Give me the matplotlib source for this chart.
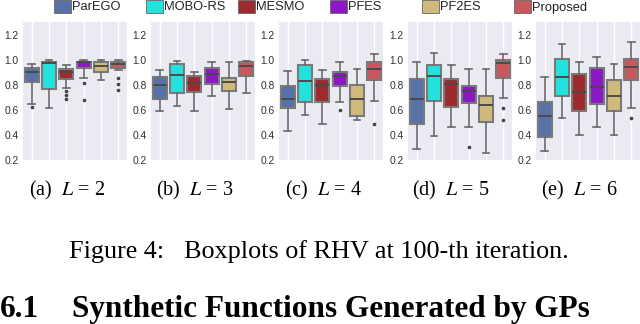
import matplotlib
matplotlib.use("Agg")
import matplotlib.pyplot as plt
from matplotlib.patches import Rectangle

methods = ["ParEGO", "MOBO-RS", "MESMO", "PFES", "PF2ES", "Proposed"]
colors = ["#5672a9", "#22e2de", "#9c2b2e", "#8c17c6", "#cfba7c", "#c8585d"]
panel_L = [2, 3, 4, 5, 6]
panel_tags = ["a", "b", "c", "d", "e"]

# RHV box statistics, one row per L, one column per method
whislo = [[0.648, 0.613, 0.773, 0.856, 0.840, 0.915],
          [0.589, 0.632, 0.587, 0.707, 0.605, 0.733],
          [0.435, 0.555, 0.483, 0.659, 0.515, 0.667],
          [0.291, 0.395, 0.461, 0.461, 0.253, 0.696],
          [0.275, 0.533, 0.403, 0.461, 0.403, 0.616]]
q1 = [[0.819, 0.768, 0.848, 0.933, 0.904, 0.933],
      [0.688, 0.733, 0.741, 0.808, 0.749, 0.867],
      [0.616, 0.664, 0.664, 0.789, 0.547, 0.835],
      [0.488, 0.669, 0.621, 0.653, 0.501, 0.856],
      [0.387, 0.707, 0.587, 0.648, 0.589, 0.835]]
med = [[0.901, 0.973, 0.901, 0.981, 0.947, 0.968],
       [0.800, 0.875, 0.813, 0.888, 0.819, 0.947],
       [0.685, 0.829, 0.795, 0.867, 0.685, 0.928],
       [0.685, 0.872, 0.808, 0.749, 0.637, 0.973],
       [0.549, 0.861, 0.741, 0.781, 0.707, 0.941]]
q3 = [[0.936, 0.979, 0.923, 0.984, 0.979, 0.981],
      [0.861, 0.965, 0.867, 0.933, 0.856, 0.979],
      [0.789, 0.960, 0.843, 0.901, 0.797, 0.984],
      [0.845, 0.960, 0.848, 0.789, 0.707, 1.000],
      [0.659, 1.008, 0.883, 0.933, 0.835, 1.008]]
whishi = [[0.968, 0.995, 0.960, 0.995, 0.995, 0.995],
          [0.915, 0.989, 0.901, 0.984, 0.981, 0.989],
          [0.909, 1.000, 0.920, 0.984, 0.928, 1.048],
          [0.979, 1.053, 0.957, 0.928, 0.925, 1.043],
          [0.861, 1.123, 0.979, 1.019, 0.965, 1.139]]
fliers = [[[0.621], [], [0.747, 0.720, 0.685], [0.813, 0.680], [], [0.856, 0.803, 0.757]],
          [[], [], [], [], [], []],
          [[], [], [], [0.600], [], [0.488]],
          [[], [], [], [0.301], [], [0.616, 0.520]],
          [[], [], [], [], [], [0.536]]]

yticks = [0.2, 0.4, 0.6, 0.8, 1.0, 1.2]

plt.rcParams["mathtext.fontset"] = "stix"
W, H = 640, 324
fig = plt.figure(figsize=(W / 100, H / 100), dpi=100)

def fx(px):
    return px / W

def fy(py):
    return 1 - py / H

ax_left = [23, 151, 279, 408, 536]
for p in range(len(panel_L)):
    ax = fig.add_axes([fx(ax_left[p]), fy(160), fx(104), fy(22) - fy(160)])
    ax.set_facecolor("#eaeaf2")
    stats = []
    for m in range(len(methods)):
        stats.append(dict(whislo=whislo[p][m], q1=q1[p][m], med=med[p][m],
                          q3=q3[p][m], whishi=whishi[p][m], fliers=fliers[p][m]))
    bp = ax.bxp(stats, positions=range(len(methods)), widths=0.8,
                patch_artist=True, showfliers=True,
                boxprops=dict(edgecolor="#7a7a7a", linewidth=1.5),
                whiskerprops=dict(color="#6a6a6a", linewidth=1.2),
                capprops=dict(color="#6a6a6a", linewidth=1.2),
                medianprops=dict(color="#4a4a4a", linewidth=1.4),
                flierprops=dict(marker="o", markersize=1.6, markerfacecolor="#444444",
                                markeredgecolor="#444444"))
    for box, c in zip(bp["boxes"], colors):
        box.set_facecolor(c)
    ax.set_xlim(-0.5, 5.5)
    ax.set_ylim(0.2, 1.3)
    ax.set_yticks(yticks)
    ax.set_yticklabels([f"{t:.1f}" for t in yticks], fontsize=7.4,
                       color="#333333", family="Liberation Sans")
    ax.set_xticks(range(len(methods)))
    ax.set_xticklabels([])
    ax.tick_params(length=0, pad=3)
    ax.grid(axis="x", color="white", linewidth=1.0)
    ax.set_axisbelow(True)
    for s in ax.spines.values():
        s.set_visible(False)
    fig.text(fx(67 + 128 * p), fy(195), f"({panel_tags[p]})  $L$ = {panel_L[p]}",
             ha="center", va="baseline", fontsize=14.5, family="Liberation Serif")

# legend, evenly spaced entries
for i, (name, c) in enumerate(zip(methods, colors)):
    x0 = 54 + 92 * i
    fig.add_artist(Rectangle((fx(x0), fy(13)), fx(17), fy(0) - fy(13),
                             transform=fig.transFigure, facecolor=c,
                             edgecolor="#666666", linewidth=0.6))
    fig.text(fx(x0 + 18), fy(7.5), name, ha="left", va="center",
             fontsize=9.3, family="Liberation Sans", color="#222222")

fig.text(fx(69), fy(258), "Figure 4:", ha="left", va="baseline",
         fontsize=18.8, family="Liberation Serif")
fig.text(fx(184), fy(258), "Boxplots of RHV at 100-th iteration.", ha="left",
         va="baseline", fontsize=18.8, family="Liberation Serif")
fig.text(fx(0), fy(317), "6.1", ha="left", va="baseline", fontsize=22.5,
         family="Liberation Serif", weight="bold")
fig.text(fx(72), fy(317), "Synthetic Functions Generated by GPs", ha="left",
         va="baseline", fontsize=22.5, family="Liberation Serif", weight="bold")

fig.savefig("out.png", dpi=100)
